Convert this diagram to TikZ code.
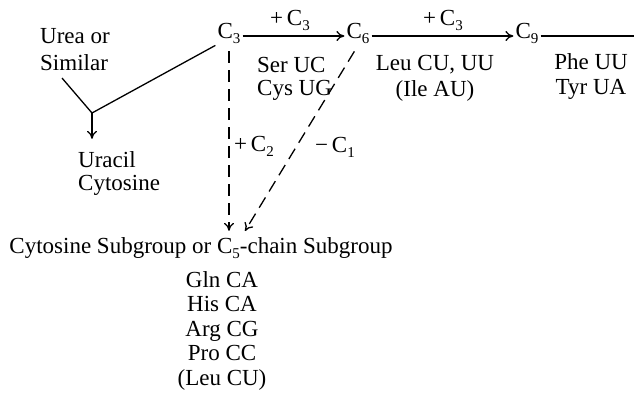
\documentclass[tikz,border=0pt]{standalone}
\usepackage{fontspec}
\setmainfont{Liberation Serif}
\usetikzlibrary{arrows.meta}
\newcommand\sbs[1]{\raisebox{-0.22em}{\fontsize{15}{15}\selectfont #1}}
\tikzset{
  lbl/.style={font=\fontsize{23}{25}\selectfont, inner sep=0pt},
  cn/.style={lbl, inner sep=2pt},
  conn/.style={line width=1.3pt},
  arr/.style={conn, -{To[length=8pt,width=10pt]}},
  dsh/.style={arr, dash pattern=on 12pt off 7pt},
}
\begin{document}
\begin{tikzpicture}[x=1pt,y=-1pt]
\useasboundingbox (0,0) rectangle (634,394);
% nodes (multi-line nodes are anchored at the baseline of their last line)
\node[lbl, anchor=base west, align=left, font=\fontsize{23}{27}\selectfont] (urea) at (40,70) {Urea or\\Similar};
\node[cn, anchor=base] (c3) at (229,38) {C\sbs{3}};
\node[cn, anchor=base] (c6) at (358,38) {C\sbs{6}};
\node[cn, anchor=base] (c9) at (527,38) {C\sbs{9}};
\node[lbl, anchor=base] (p1) at (290,25) {+\,C\sbs{3}};
\node[lbl, anchor=base] (p2) at (443,25) {+\,C\sbs{3}};
\node[lbl, anchor=base west, align=left, font=\fontsize{23}{23}\selectfont] (ser) at (257,95) {Ser UC\\Cys UG};
\node[lbl, anchor=base, align=center, font=\fontsize{23}{26}\selectfont] (leu) at (435,96) {Leu CU, UU\\(Ile AU)};
\node[lbl, anchor=base, align=center, font=\fontsize{23}{25}\selectfont] (phe) at (591,94) {Phe UU\\Tyr UA};
\node[lbl, anchor=base west, align=left, font=\fontsize{23}{23}\selectfont] (uracil) at (78,190) {Uracil\\Cytosine};
\node[lbl, anchor=base west] (pc2) at (234,151) {+\,C\sbs{2}};
\node[lbl, anchor=base west] (mc1) at (315,152) {−\,C\sbs{1}};
\node[lbl, anchor=base] (csub) at (201,253) {Cytosine Subgroup or C\sbs{5}-chain Subgroup};
\node[lbl, anchor=base, align=center, font=\fontsize{23}{24.5}\selectfont] (list) at (222,385) {Gln CA\\His CA\\Arg CG\\Pro CC\\(Leu CU)};
% coordinates
\coordinate (j) at (92,113);
\coordinate (u0) at (62,78);
\coordinate (lineend) at (634,36);
\coordinate (dtip) at (245,231);
% connectors
\draw[arr] ([yshift=2pt]c3.base east) -- ([yshift=2pt]c6.base west);
\draw[arr] ([yshift=2pt]c6.base east) -- ([yshift=2pt]c9.base west);
\draw[conn] ([yshift=2pt]c9.base east) -- (lineend);
\draw[conn] (u0) -- (j) -- (c3.south west);
\draw[arr, shorten >=12pt] (j) -- (j |- uracil.north);
\draw[dsh, shorten <=6pt, shorten >=6pt] (c3.south) -- (c3.south |- csub.north);
\draw[dsh, shorten <=7pt] (c6.south) -- (dtip);
\end{tikzpicture}
\end{document}
